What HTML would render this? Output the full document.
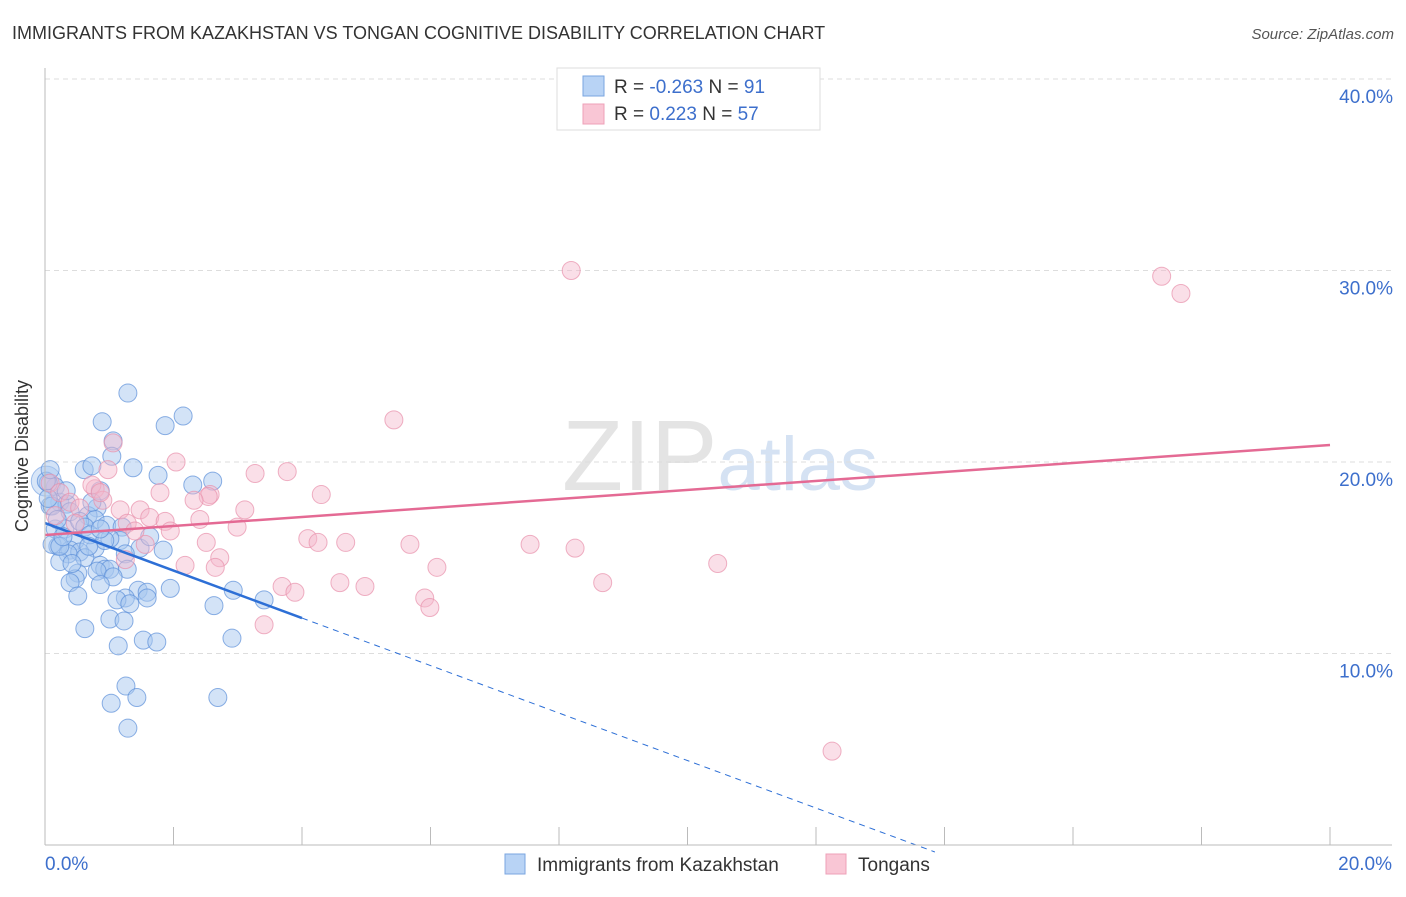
<!DOCTYPE html>
<html><head><meta charset="utf-8"><style>
body{margin:0;background:#fff;font-family:"Liberation Sans",sans-serif;}
svg text{font-family:"Liberation Sans",sans-serif;}
</style></head><body>
<svg id="c" width="1406" height="892" xmlns="http://www.w3.org/2000/svg">
<text x="12" y="39" font-size="18" fill="#333">IMMIGRANTS FROM KAZAKHSTAN VS TONGAN COGNITIVE DISABILITY CORRELATION CHART</text>
<text x="1394" y="39" font-size="15" fill="#555" font-style="italic" text-anchor="end">Source: ZipAtlas.com</text>
<text x="720" y="490" font-size="100" fill="#e4e4e4" text-anchor="middle" font-family="Liberation Serif">ZIP<tspan fill="#d5e2f3" font-family="Liberation Sans" font-size="76">atlas</tspan></text>
<g id="grid"></g><g id="pts"></g><g id="lines"></g>
<line x1="45" y1="68" x2="45" y2="845" stroke="#bbb"/>
<line x1="45" y1="845" x2="1392" y2="845" stroke="#bbb"/>
<text x="28" y="456" font-size="18" fill="#333" text-anchor="middle" transform="rotate(-90 28 456)">Cognitive Disability</text>
<text x="45" y="870" font-size="19" fill="#3d6fcc">0.0%</text>
<text x="1392" y="870" font-size="19" fill="#3d6fcc" text-anchor="end">20.0%</text>
<g>
<rect x="557" y="68" width="263" height="62" fill="#fff" stroke="#ddd"/>
<rect x="583" y="76" width="21" height="20" fill="#b8d3f5" stroke="#7aa6e0"/>
<rect x="583" y="104" width="21" height="20" fill="#f9c6d5" stroke="#eea0b8"/>
<text x="614" y="93" font-size="19" fill="#333">R = <tspan fill="#3d6fcc">-0.263</tspan>   N = <tspan fill="#3d6fcc"> 91</tspan></text>
<text x="614" y="120" font-size="19" fill="#333">R =   <tspan fill="#3d6fcc">0.223</tspan>   N = <tspan fill="#3d6fcc">57</tspan></text>
</g>
<g>
<rect x="505" y="854" width="20" height="20" fill="#b8d3f5" stroke="#7aa6e0"/>
<text x="537" y="871" font-size="19" fill="#333">Immigrants from Kazakhstan</text>
<rect x="826" y="854" width="20" height="20" fill="#f9c6d5" stroke="#eea0b8"/>
<text x="858" y="871" font-size="19" fill="#333">Tongans</text>
</g>
</svg>
<script>
const yTicks=[10,20,30,40];
const xTicks=[0,2,4,6,8,10,12,14,16,18,20];
const blueX=[1.29,2.15,0.89,1.87,1.06,1.04,1.37,0.61,1.76,2.61,0.73,2.30,0.86,0.16,0.05,0.23,0.08,0.34,0.81,0.39,0.67,0.78,0.96,1.20,0.16,0.31,0.54,0.62,1.17,1.01,0.47,0.20,0.11,1.48,1.84,0.78,0.39,0.54,0.36,1.25,0.62,0.23,0.86,0.93,1.01,1.28,0.81,1.06,0.51,0.47,0.39,0.86,1.45,0.51,1.25,1.59,1.95,2.93,1.12,1.32,1.59,2.63,3.41,1.01,1.23,0.62,1.53,1.74,1.14,2.91,1.26,1.43,1.03,2.69,1.29,0.23,0.02,0.08,0.11,0.28,0.70,1.63,0.93,0.42,0.68,0.19,0.05,0.33,0.73,0.86];
const blueY=[23.6,22.4,22.1,21.9,21.1,20.3,19.7,19.6,19.3,19.0,19.8,18.8,18.5,18.7,18.9,17.9,17.7,17.8,17.6,17.4,17.2,17.0,16.7,16.6,16.5,16.5,16.9,16.6,15.9,16.0,15.9,15.6,15.7,15.5,15.4,15.5,15.4,15.3,15.2,15.2,15.0,14.8,14.6,14.4,14.4,14.4,14.3,14.0,14.2,13.9,13.7,13.6,13.3,13.0,12.9,13.2,13.4,13.3,12.8,12.6,12.9,12.5,12.8,11.8,11.7,11.3,10.7,10.6,10.4,10.8,8.3,7.7,7.4,7.7,6.1,15.6,19.0,19.6,17.7,16.1,16.2,16.1,15.9,14.7,15.6,17.0,18.1,18.5,17.9,16.5];
const pinkX=[8.19,17.38,17.68,5.43,1.06,2.04,3.27,3.77,0.78,1.79,2.57,2.54,4.30,2.32,0.90,3.11,1.17,1.48,2.41,1.63,1.87,2.99,1.28,1.95,4.09,4.25,4.68,5.68,7.55,8.25,2.51,2.72,2.18,2.65,6.10,10.47,3.69,3.89,4.59,4.98,8.68,5.91,5.99,3.41,12.25,0.08,0.23,0.39,0.54,0.16,0.73,0.98,1.25,1.56,0.47,0.86,1.40];
const pinkY=[30.0,29.7,28.8,22.2,21.0,20.0,19.4,19.5,18.6,18.4,18.3,18.2,18.3,18.0,18.0,17.5,17.5,17.5,17.0,17.1,16.9,16.6,16.8,16.4,16.0,15.8,15.8,15.7,15.7,15.5,15.8,15.0,14.6,14.5,14.5,14.7,13.5,13.2,13.7,13.5,13.7,12.9,12.4,11.5,4.9,18.9,18.4,17.9,17.6,17.2,18.8,19.6,14.9,15.7,16.8,18.4,16.4];
const blueTrend=[16.81,11.85,4,13.85];
const pinkTrend=[16.19,20.89];
const X=v=>45+v*64.25, Y=v=>845-v*19.15;
const NS="http://www.w3.org/2000/svg";
function mk(p,t,a){const e=document.createElementNS(NS,t);for(const k in a)e.setAttribute(k,a[k]);p.appendChild(e);return e;}
const grid=document.getElementById('grid');
yTicks.forEach(t=>{
 const l=mk(grid,'line',{x1:45,x2:1392,y1:Y(t),y2:Y(t),stroke:'#ddd','stroke-dasharray':'5,4'});
 
 
 const tx=mk(grid,'text',{x:1393,y:Y(t)+24,'font-size':19,fill:'#3d6fcc','text-anchor':'end'});
 tx.textContent=t.toFixed(1)+'%';
 
 
});
xTicks.forEach(t=>{
 const l=mk(grid,'line',{x1:X(t),x2:X(t),y1:827,y2:845,stroke:'#bbb'});
 
 
});
const pts=document.getElementById('pts');
const big=mk(pts,'circle',{cx:X(0.02),cy:Y(19.0),r:15,fill:'#a8c8f0','fill-opacity':0.45,stroke:'#6a9be0','stroke-opacity':0.6});


blueX.forEach((x,i)=>{
 const c=mk(pts,'circle',{cx:X(x),cy:Y(blueY[i]),r:9,fill:'#a8c8f0','fill-opacity':0.5,stroke:'#5b8fd9','stroke-opacity':0.7});
 
 
});
pinkX.forEach((x,i)=>{
 const c=mk(pts,'circle',{cx:X(x),cy:Y(pinkY[i]),r:9,fill:'#f5b8cb','fill-opacity':0.45,stroke:'#e890ab','stroke-opacity':0.7});
 
 
});
const lines=document.getElementById('lines');
const slope=(blueTrend[1]-blueTrend[0])/blueTrend[2];
const b1=mk(lines,'line',{x1:X(0),y1:Y(blueTrend[0]),x2:X(blueTrend[2]),y2:Y(blueTrend[1]),stroke:'#2d6fd6','stroke-width':2.5});


const b2=mk(lines,'line',{x1:X(blueTrend[2]),y1:Y(blueTrend[1]),x2:X(blueTrend[3]),y2:Y(blueTrend[0]+slope*blueTrend[3]),stroke:'#2d6fd6','stroke-width':1,'stroke-dasharray':'6,5'});


const p1=mk(lines,'line',{x1:X(0),y1:Y(pinkTrend[0]),x2:X(20),y2:Y(pinkTrend[1]),stroke:'#e46a94','stroke-width':2.5});


</script>
</body></html>
